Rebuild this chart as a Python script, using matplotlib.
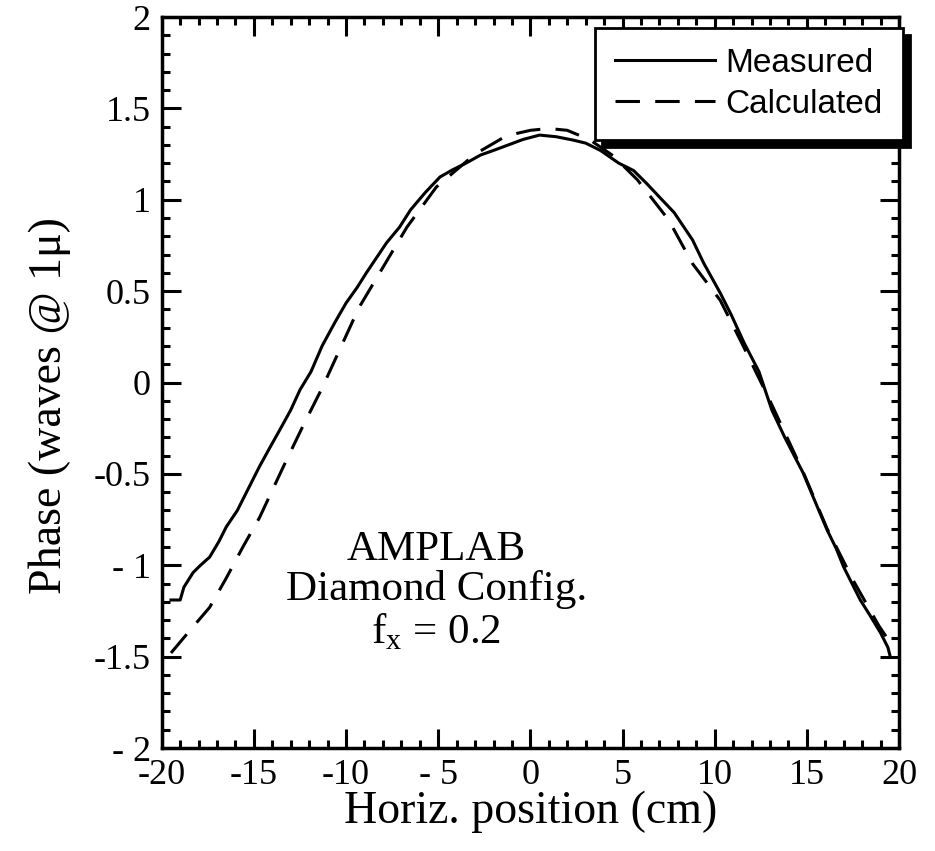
import numpy as np
import matplotlib
matplotlib.use("Agg")
import matplotlib.pyplot as plt
from matplotlib.ticker import MultipleLocator, FixedLocator, FixedFormatter

# measured phase
meas_x = [-19.5, -19.0, -18.8, -18.3, -17.9, -17.4, -16.9, -16.5, -15.9, -15.4,
          -14.7, -14.1, -13.6, -13.0, -12.5, -11.9, -11.3, -10.6, -10.0, -9.4,
          -8.9, -8.3, -7.8, -7.1, -6.5, -5.7, -4.9, -4.2, -3.5, -2.7,
          -2.0, -1.2, -0.4, 0.5, 1.4, 2.3, 3.0, 3.8, 4.8, 5.6,
          6.3, 7.0, 7.8, 8.8, 9.4, 10.3, 10.9, 11.6, 12.4, 13.1,
          13.8, 14.8, 15.4, 16.1, 16.6, 17.0, 17.4, 17.9, 18.4, 19.0,
          19.4, 19.5]
meas_y = [-1.19, -1.19, -1.12, -1.04, -1.00, -0.955, -0.87, -0.79, -0.70, -0.60,
          -0.46, -0.35, -0.26, -0.15, -0.04, 0.06, 0.20, 0.33, 0.435, 0.52,
          0.60, 0.69, 0.765, 0.85, 0.945, 1.04, 1.125, 1.165, 1.20, 1.245,
          1.27, 1.30, 1.33, 1.354, 1.345, 1.327, 1.31, 1.27, 1.20, 1.16,
          1.09, 1.015, 0.93, 0.78, 0.654, 0.49, 0.37, 0.216, 0.06, -0.15,
          -0.30, -0.495, -0.64, -0.807, -0.91, -1.01, -1.09, -1.19, -1.27, -1.37,
          -1.45, -1.49]

# calculated phase
calc_x = [-19.5, -18.5, -17.4, -16.5, -15.6, -14.7, -13.4, -12.35, -11.3, -10.3,
          -9.3, -8.0, -6.7, -5.1, -3.0, -1.3, 0.0, 1.0, 2.0, 3.2,
          4.5, 5.8, 7.5, 8.8, 10.3, 11.5, 13.0, 14.8, 16.1, 17.5,
          18.9, 19.5]
calc_y = [-1.48, -1.36, -1.23, -1.07, -0.90, -0.74, -0.46, -0.24, -0.03, 0.19,
          0.41, 0.63, 0.85, 1.07, 1.25, 1.35, 1.38, 1.39, 1.38, 1.33,
          1.24, 1.11, 0.89, 0.65, 0.45, 0.21, -0.10, -0.49, -0.80, -1.08,
          -1.33, -1.42]

xticks = [-20, -15, -10, -5, 0, 5, 10, 15, 20]
xlabels = ["-20", "-15", "-10", "- 5", "0", "5", "10", "15", "20"]
yticks = [-2, -1.5, -1, -0.5, 0, 0.5, 1, 1.5, 2]
ylabels = ["- 2", "-1.5", "- 1", "-0.5", "0", "0.5", "1", "1.5", "2"]

serif = ["Liberation Serif", "DejaVu Serif"]
sans = ["Liberation Sans", "DejaVu Sans"]

fig = plt.figure(figsize=(9.35, 8.51), dpi=100)
ax = fig.add_axes([0.173, 0.121, 0.7885, 0.859])

ax.plot(meas_x, meas_y, color="black", lw=2.2, label="Measured")
ax.plot(calc_x, calc_y, color="black", lw=2.2, dashes=(8, 5), label="Calculated")

ax.set_xlim(-20, 20)
ax.set_ylim(-2, 2)
ax.xaxis.set_major_locator(FixedLocator(xticks))
ax.xaxis.set_major_formatter(FixedFormatter(xlabels))
ax.yaxis.set_major_locator(FixedLocator(yticks))
ax.yaxis.set_major_formatter(FixedFormatter(ylabels))
ax.xaxis.set_minor_locator(MultipleLocator(1))
ax.yaxis.set_minor_locator(MultipleLocator(0.1))
ax.tick_params(which="both", direction="in", top=True, right=True,
               width=2.2, color="black")
ax.tick_params(which="major", length=14, pad=8, labelsize=26)
ax.tick_params(which="minor", length=6)
for lab in ax.get_xticklabels() + ax.get_yticklabels():
    lab.set_family(serif)
for sp in ax.spines.values():
    sp.set_linewidth(2.5)

ax.set_xlabel("Horiz. position (cm)", fontsize=33, family=serif, labelpad=-1)
ax.set_ylabel("Phase (waves @ 1\u03bc)", fontsize=33, family=serif)
ax.yaxis.set_label_coords(-0.123, 0.469)

ax.text(-5.1, -1.14, "AMPLAB\nDiamond Config.\nf$_\\mathregular{x}$ = 0.2",
        ha="center", va="center", fontsize=31, family=serif, linespacing=1.05)

leg = ax.legend(loc="upper right", bbox_to_anchor=(1.005, 0.985),
                borderaxespad=0.0,
                prop={"family": sans, "size": 24}, handlelength=3.0,
                frameon=True, fancybox=False, borderpad=0.6, labelspacing=0.3,
                handletextpad=0.3,
                shadow={"color": "black", "alpha": 1.0, "ox": 5, "oy": -5})
leg.get_frame().set_edgecolor("black")
leg.get_frame().set_linewidth(2.0)
leg.get_frame().set_alpha(1.0)

fig.savefig("out.png", dpi=100)
